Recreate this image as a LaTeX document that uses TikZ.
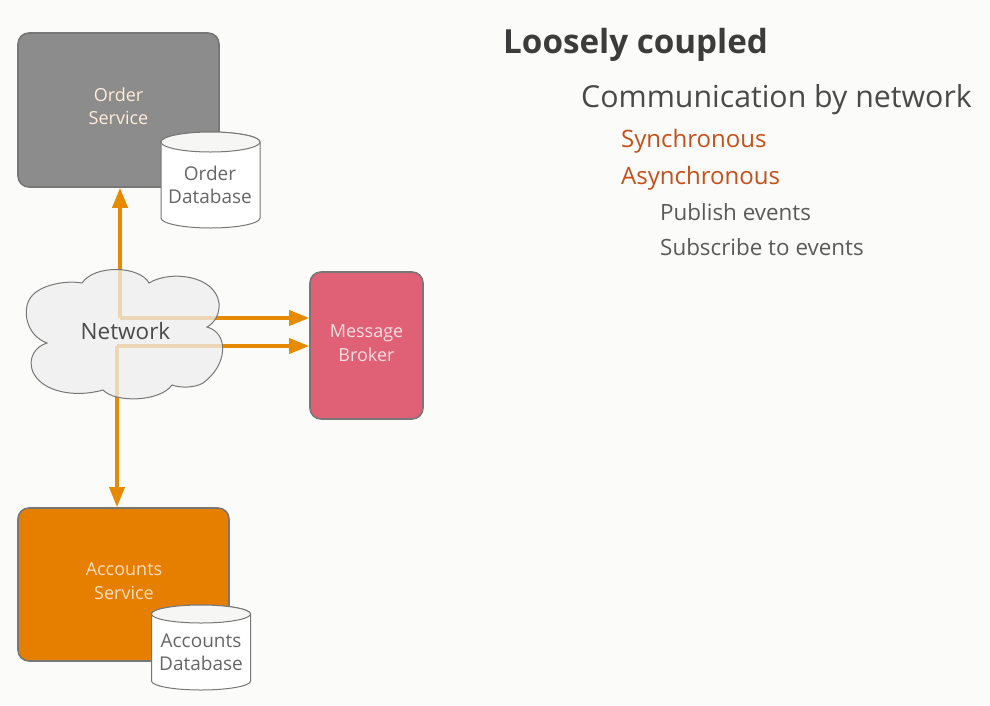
\documentclass[tikz,border=0pt]{standalone}
\usepackage{fontspec}
\setmainfont{Open Sans}
\usetikzlibrary{arrows.meta}
\definecolor{bgc}{HTML}{FBFBFA}
\definecolor{orangeline}{HTML}{E68A00}
\definecolor{graybox}{HTML}{8C8C8C}
\definecolor{grayedge}{HTML}{777777}
\definecolor{pinkbox}{HTML}{E06075}
\definecolor{orangebox}{HTML}{E67E00}
\definecolor{cloudfill}{HTML}{EFEFEF}
\definecolor{darktext}{HTML}{3C3C3C}
\definecolor{midtext}{HTML}{4A4A4A}
\definecolor{rust}{HTML}{C4501B}
\definecolor{softtext}{HTML}{5A5A5A}
\definecolor{dbtext}{HTML}{666666}
\tikzset{
  svc/.style={draw=grayedge,line width=1.6pt,rounded corners=11pt,minimum width=#1,inner sep=0pt},
  svctxt/.style={align=center,inner sep=0pt,font=\fontsize{18}{23.5}\selectfont},
  flow/.style={draw=orangeline,line width=3.6pt,-{Triangle[length=20pt,width=15pt]}},
  dbtxt/.style={text=dbtext,align=center,font=\fontsize{19}{23}\selectfont,inner sep=0pt},
  head/.style={anchor=base west,inner sep=0pt},
  cloudshape/.style={draw=grayedge,line width=1pt}
}
\newcommand{\dbcyl}[5]{% cx, top, bottom, rx, ry
  \draw[grayedge,line width=1pt,fill=white]
    (#1-#4,#2) arc[x radius=#4,y radius=#5,start angle=180,end angle=360]
    -- (#1+#4,#3-#5) arc[x radius=#4,y radius=#5,start angle=0,end angle=180] -- cycle;
  \draw[grayedge,line width=1pt,fill=bgc!98!black]
    (#1-#4,#2) arc[x radius=#4,y radius=#5,start angle=180,end angle=-180];
}
\begin{document}
\begin{tikzpicture}[x=1pt,y=-1pt]
\fill[bgc] (0,0) rectangle (990,705);
\useasboundingbox (0,0) rectangle (990,705);

% service boxes
\node[svc=201pt,fill=graybox,minimum height=154pt] (order) at (118.5,110) {};
\node[svc=211pt,fill=orangebox,minimum height=153pt] (accounts) at (123.5,584.5) {};
\node[svc=113pt,fill=pinkbox,minimum height=147pt] (broker) at (366.5,345.5) {};
\node[svctxt,text=white!85!orange] (ordertxt) at (118.5,106) {Order\\Service};
\node[svctxt,text=white!75!orange] (accountstxt) at (124,581) {Accounts\\Service};
\node[svctxt,text=white!80!pinkbox] (brokertxt) at (366.5,343) {Message\\Broker};

% junctions
\coordinate (j1) at (120,318);
\coordinate (j2) at (117,346);

% connectors (under the translucent cloud)
\draw[flow] (j1) -- (j1 |- order.south);
\draw[flow] (j1) -- (j1 -| broker.west);
\draw[flow] (j2) -- (j2 |- accounts.north);
\draw[flow] (j2) -- (j2 -| broker.west);

% cloud
\def\cloudpath{(82,283)
  .. controls (95,264) and (140,266) .. (149,283)
  .. controls (170,270) and (215,275) .. (219,303)
  .. controls (220,313) and (215,323) .. (207,327)
  .. controls (229,333) and (228,365) .. (203,383)
  .. controls (195,388) and (180,388) .. (172,385)
  .. controls (160,402) and (115,403) .. (103,390)
  .. controls (75,398) and (42,392) .. (33,372)
  .. controls (27,358) and (36,346) .. (47,343)
  .. controls (25,335) and (22,308) .. (31,297)
  .. controls (40,285) and (65,280) .. (82,283) -- cycle}
\path[fill=cloudfill,fill opacity=0.76] \cloudpath;
\draw[cloudshape] \cloudpath;
\node[text=midtext,inner sep=0pt,font=\fontsize{22.5}{26}\selectfont] (net) at (125.5,331) {Network};

% databases
\dbcyl{210.5}{142}{228}{49.5}{10}
\node[dbtxt] (orderdb) at (210,185) {Order\\Database};
\dbcyl{201}{614}{690}{49.5}{9}
\node[dbtxt] (accountsdb) at (201,652) {Accounts\\Database};

% text
\node[head,text=darktext,font=\bfseries\fontsize{33.2}{38}\selectfont] (t1) at (503,53) {Loosely coupled};
\node[head,text=midtext,font=\fontsize{30.3}{35}\selectfont] (t2) at (581,107) {Communication by network};
\node[head,text=rust,font=\fontsize{24}{28}\selectfont] (t3) at (621,147) {Synchronous};
\node[head,text=rust,font=\fontsize{24}{28}\selectfont] (t4) at (621,184) {Asynchronous};
\node[head,text=softtext,font=\fontsize{22.4}{26}\selectfont] (t5) at (660,220) {Publish events};
\node[head,text=softtext,font=\fontsize{22.4}{26}\selectfont] (t6) at (660,255) {Subscribe to events};
\end{tikzpicture}
\end{document}
